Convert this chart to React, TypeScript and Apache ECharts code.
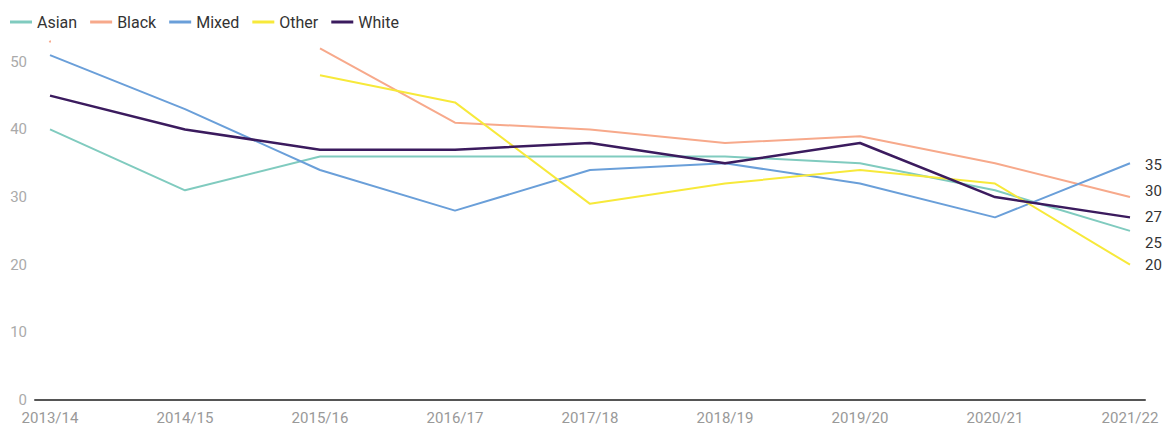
import React, { useEffect, useRef } from "react";
import * as echarts from "echarts";

const years = ["2013/14", "2014/15", "2015/16", "2016/17", "2017/18", "2018/19", "2019/20", "2020/21", "2021/22"];
const asian = [40, 31, 36, 36, 36, 36, 35, 31, 25];
const black = [53, null, 52, 41, 40, 38, 39, 35, 30];
const mixed = [51, 43, 34, 28, 34, 35, 32, 27, 35];
const other = [null, null, 48, 44, 29, 32, 34, 32, 20];
const white = [45, 40, 37, 37, 38, 35, 38, 30, 27];

const seriesDefs = [
  { name: "Asian", data: asian, color: "#80cbbf", width: 2, labelShift: 12 },
  { name: "Black", data: black, color: "#f7a98b", width: 2, labelShift: -6 },
  { name: "Mixed", data: mixed, color: "#6a9fd9", width: 2, labelShift: 2 },
  { name: "Other", data: other, color: "#f7e93a", width: 2, labelShift: 0 },
  { name: "White", data: white, color: "#3b1b5e", width: 2.5, labelShift: 0 },
];

export default function App() {
  const ref = useRef<HTMLDivElement>(null);
  useEffect(() => {
    document.body.style.margin = "0";
    const chart = echarts.init(ref.current!, undefined, { renderer: "svg" });
    const isolated = (arr: (number | null)[]) =>
      arr.map((v, i) => {
        const prev = i > 0 ? arr[i - 1] : null;
        const next = i < arr.length - 1 ? arr[i + 1] : null;
        if (v != null && prev == null && next == null) {
          return { value: v, symbol: "circle", symbolSize: 2 };
        }
        return v;
      });
    chart.setOption({
      animation: false,
      textStyle: { fontFamily: "Roboto" },
      legend: {
        left: 10,
        top: 14,
        padding: 0,
        itemWidth: 22,
        itemHeight: 3,
        itemGap: 13,
        icon: "rect",
        textStyle: { fontSize: 16, color: "#333", fontFamily: "Roboto" },
        data: seriesDefs.map((s) => s.name),
      },
      grid: [
        { left: 50, right: 40, top: 28, bottom: 28, containLabel: false },
        { left: 35, right: 25, top: 28, bottom: 28, containLabel: false },
      ],
      xAxis: [
        {
          type: "category",
          gridIndex: 0,
          data: years,
          boundaryGap: false,
          axisLine: { show: false },
          axisTick: { show: false },
          axisLabel: { color: "#999", fontSize: 15, margin: 10, fontFamily: "Roboto" },
          splitLine: { show: false },
        },
        {
          type: "value",
          gridIndex: 1,
          min: 0,
          max: 1,
          axisLine: { show: true, lineStyle: { color: "#555", width: 2 } },
          axisTick: { show: false },
          axisLabel: { show: false },
          splitLine: { show: false },
        },
      ],
      yAxis: [
        {
          type: "value",
          gridIndex: 0,
          min: 0,
          max: 55,
          interval: 10,
          axisLine: { show: false },
          axisTick: { show: false },
          splitLine: { show: false },
          axisLabel: {
            color: "#aaa",
            fontSize: 15,
            margin: 23,
            fontFamily: "Roboto",
            formatter: (v: number) => (v % 10 === 0 ? String(v) : ""),
          },
        },
        {
          type: "value",
          gridIndex: 1,
          min: 0,
          max: 1,
          show: false,
        },
      ],
      series: seriesDefs.map((s) => ({
        name: s.name,
        type: "line",
        xAxisIndex: 0,
        yAxisIndex: 0,
        data: isolated(s.data),
        symbol: "none",
        connectNulls: false,
        color: s.color,
        lineStyle: { color: s.color, width: s.width },
        itemStyle: { color: s.color },
        endLabel: {
          show: true,
          formatter: "{c}",
          color: "#333",
          fontSize: 15,
          fontFamily: "Roboto",
          distance: 15,
          offset: [0, s.labelShift],
        },
        emphasis: { disabled: true },
      })),
    });
    return () => chart.dispose();
  }, []);
  return <div ref={ref} style={{ width: 1170, height: 428 }} />;
}
